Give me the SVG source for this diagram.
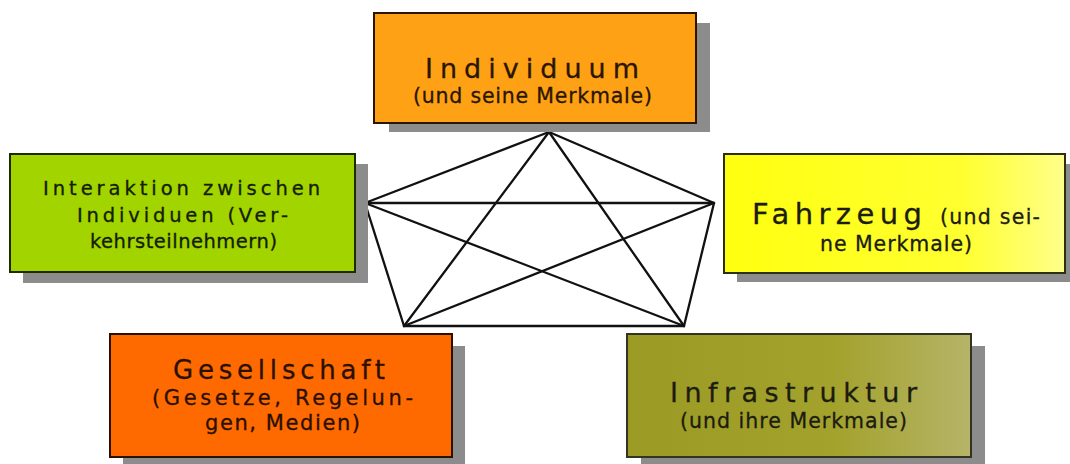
<svg xmlns="http://www.w3.org/2000/svg" width="1070" height="464" viewBox="0 0 1070 464">
<style>
  .shadow { fill: #8c8c8c; }
  .box { stroke-width: 2; }
  .t { font-family: "DejaVu Sans", Verdana, sans-serif; stroke-width: 0.3; }
  .conn line { stroke: #111; stroke-width: 2.3; stroke-linecap: round; }
</style>
<defs>
  <linearGradient id="gYellow" x1="0" y1="0" x2="1" y2="0">
    <stop offset="0" stop-color="#ffff10"/>
    <stop offset="0.7" stop-color="#ffff30"/>
    <stop offset="1" stop-color="#ffff8a"/>
  </linearGradient>
  <linearGradient id="gOlive" x1="0" y1="0" x2="1" y2="0">
    <stop offset="0" stop-color="#9a9a24"/>
    <stop offset="0.6" stop-color="#a3a22c"/>
    <stop offset="1" stop-color="#b6b468"/>
  </linearGradient>
</defs>
<rect width="1070" height="464" fill="#ffffff"/>

<g id="connectors" class="conn">
  <line x1="549" y1="132" x2="365" y2="203"/>
  <line x1="549" y1="132" x2="714" y2="203"/>
  <line x1="365" y1="203" x2="404" y2="326"/>
  <line x1="714" y1="203" x2="684" y2="326"/>
  <line x1="404" y1="326" x2="684" y2="326"/>
  <line x1="549" y1="132" x2="404" y2="326"/>
  <line x1="549" y1="132" x2="684" y2="326"/>
  <line x1="365" y1="203" x2="714" y2="203"/>
  <line x1="365" y1="203" x2="684" y2="326"/>
  <line x1="714" y1="203" x2="404" y2="326"/>
</g>

<g id="node-individuum">
  <rect class="shadow" x="389" y="23" width="321" height="109"/>
  <rect class="box" x="374" y="13" width="322" height="110" fill="#ffa114" stroke="#2a1600"/>
  <text class="t" x="425" y="78" font-size="27" fill="#2a1600" stroke="#2a1600" textLength="214" lengthAdjust="spacing">Individuum</text>
  <text class="t" x="413" y="103" font-size="20.5" fill="#2a1600" stroke="#2a1600" textLength="239" lengthAdjust="spacing">(und seine Merkmale)</text>
</g>

<g id="node-interaktion">
  <rect class="shadow" x="23" y="164" width="345" height="119"/>
  <rect class="box" x="10" y="154" width="345" height="118" fill="#a2d400" stroke="#1e2a00"/>
  <text class="t" x="43" y="195" font-size="19.5" fill="#132000" stroke="#132000" textLength="277" lengthAdjust="spacing">Interaktion zwischen</text>
  <text class="t" x="77" y="222" font-size="19.5" fill="#132000" stroke="#132000" textLength="211" lengthAdjust="spacing">Individuen (Ver-</text>
  <text class="t" x="90" y="248" font-size="19.5" fill="#132000" stroke="#132000" textLength="187" lengthAdjust="spacing">kehrsteilnehmern)</text>
</g>

<g id="node-fahrzeug">
  <rect class="shadow" x="737" y="164" width="333" height="118"/>
  <rect class="box" x="724" y="154" width="341" height="119" fill="url(#gYellow)" stroke="#2e2e10"/>
  <text class="t" x="752" y="224" font-size="29" fill="#1c1c10" stroke="#1c1c10" textLength="170" lengthAdjust="spacing">Fahrzeug</text>
  <text class="t" x="940" y="224" font-size="20.5" fill="#1c1c10" stroke="#1c1c10" textLength="100" lengthAdjust="spacing">(und sei-</text>
  <text class="t" x="820" y="251" font-size="20.5" fill="#1c1c10" stroke="#1c1c10" textLength="152" lengthAdjust="spacing">ne Merkmale)</text>
</g>

<g id="node-gesellschaft">
  <rect class="shadow" x="123" y="346" width="342" height="118"/>
  <rect class="box" x="110" y="334" width="342" height="123" fill="#ff6a00" stroke="#2a1000"/>
  <text class="t" x="173" y="379" font-size="26" fill="#2a1000" stroke="#2a1000" textLength="212" lengthAdjust="spacing">Gesellschaft</text>
  <text class="t" x="152" y="405" font-size="21" fill="#2a1000" stroke="#2a1000" textLength="261" lengthAdjust="spacing">(Gesetze, Regelun-</text>
  <text class="t" x="205" y="430" font-size="21" fill="#2a1000" stroke="#2a1000" textLength="155" lengthAdjust="spacing">gen, Medien)</text>
</g>

<g id="node-infrastruktur">
  <rect class="shadow" x="641" y="346" width="344" height="118"/>
  <rect class="box" x="627" y="334" width="344" height="123" fill="url(#gOlive)" stroke="#333320"/>
  <text class="t" x="670" y="402" font-size="27" fill="#1c1c10" stroke="#1c1c10" textLength="247" lengthAdjust="spacing">Infrastruktur</text>
  <text class="t" x="680" y="428" font-size="20.5" fill="#1c1c10" stroke="#1c1c10" textLength="227" lengthAdjust="spacing">(und ihre Merkmale)</text>
</g>
</svg>
